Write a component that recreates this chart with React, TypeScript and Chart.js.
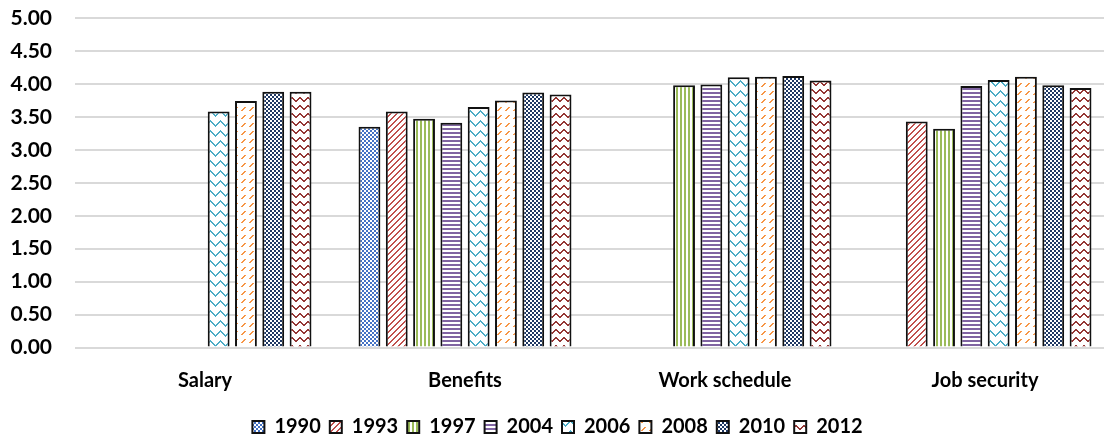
import React, { useEffect, useRef } from "react";
import { Chart, registerables } from "chart.js";

Chart.register(...registerables);

const categories = ["Salary", "Benefits", "Work schedule", "Job security"];
const years = ["1990", "1993", "1997", "2004", "2006", "2008", "2010", "2012"];

const v1990 = [null, 3.35, null, null];
const v1993 = [null, 3.58, null, 3.43];
const v1997 = [null, 3.47, 3.98, 3.32];
const v2004 = [null, 3.41, 3.99, 3.97];
const v2006 = [3.58, 3.65, 4.1, 4.06];
const v2008 = [3.74, 3.75, 4.11, 4.11];
const v2010 = [3.88, 3.87, 4.12, 3.98];
const v2012 = [3.88, 3.84, 4.05, 3.94];

const seriesValues = [v1990, v1993, v1997, v2004, v2006, v2008, v2010, v2012];
const yTicks = [0, 0.5, 1, 1.5, 2, 2.5, 3, 3.5, 4, 4.5, 5];

const FONT = "Lato, 'Liberation Sans', sans-serif";
const FSIZE = 20;

function tile(w: number, h: number, color: string, pixels: [number, number, number?, number?][]) {
  const c = document.createElement("canvas");
  c.width = w;
  c.height = h;
  const ctx = c.getContext("2d")!;
  ctx.fillStyle = "#ffffff";
  ctx.fillRect(0, 0, w, h);
  ctx.fillStyle = color;
  for (const [x, y, pw, ph] of pixels) ctx.fillRect(x, y, pw ?? 1, ph ?? 1);
  const tmp = document.createElement("canvas").getContext("2d")!;
  return tmp.createPattern(c, "repeat") as CanvasPattern;
}

function makePatterns() {
  const p: CanvasPattern[] = [];
  // 1990 small checker blue
  p.push(tile(4, 4, "#4472C4", [[0, 0, 2, 2], [2, 2, 2, 2]]));
  // 1993 upward diagonal red
  const d: [number, number, number?, number?][] = [];
  for (let i = 0; i < 6; i++) {
    d.push([i, 5 - i]);
    d.push([(i + 1) % 6, 5 - i]);
  }
  p.push(tile(6, 6, "#C0504D", d));
  // 1997 vertical stripes green
  p.push(tile(4, 1, "#9BBB59", [[0, 0, 2, 1]]));
  // 2004 horizontal stripes purple
  p.push(tile(1, 4, "#8064A2", [[0, 0, 1, 2]]));
  // 2006 zigzag teal
  const z: [number, number, number?, number?][] = [];
  for (let x = 0; x < 10; x++) {
    const y = x < 5 ? x : 10 - x;
    z.push([x, y, 1, 2]);
  }
  p.push(tile(10, 10, "#4BACC6", z));
  // 2008 dashed upward diagonal orange
  p.push(
    tile(8, 8, "#F79646", [
      [1, 6, 2, 1],
      [2, 5, 2, 1],
      [3, 4, 2, 1],
      [4, 3, 2, 1],
    ])
  );
  // 2010 dark navy checker
  p.push(tile(4, 4, "#1F3864", [[0, 0, 2, 2], [2, 2, 2, 2]]));
  // 2012 herringbone dark red
  const h: [number, number, number?, number?][] = [];
  for (let x = 0; x < 8; x++) {
    const y = x < 4 ? 4 - x : x - 3;
    h.push([x, y, 1, 2]);
  }
  p.push(tile(8, 8, "#953735", h));
  return p;
}

export default function App() {
  const ref = useRef<HTMLCanvasElement | null>(null);

  useEffect(() => {
    if (!ref.current) return;
    const patterns = makePatterns();
    const chart = new Chart(ref.current, {
      type: "bar",
      data: {
        labels: categories,
        datasets: years.map((y, i) => ({
          label: y,
          data: seriesValues[i],
          backgroundColor: patterns[i],
          borderColor: "#111111",
          borderWidth: 2,
          barPercentage: 0.8,
          categoryPercentage: 0.84,
        })),
      },
      options: {
        animation: false,
        responsive: false,
        maintainAspectRatio: false,
        layout: { padding: { top: 18, right: 0, left: 0, bottom: 0 } },
        plugins: {
          tooltip: { enabled: false },
          legend: {
            position: "bottom",
            labels: {
              boxWidth: 12,
              boxHeight: 12,
              padding: 9,
              color: "#000",
              font: { family: FONT, size: FSIZE, weight: "bold" },
            },
          },
        },
        scales: {
          x: {
            grid: { display: false },
            border: { display: false },
            ticks: {
              color: "#000",
              padding: 13,
              font: { family: FONT, size: FSIZE, weight: "bold" },
            },
            afterFit: (s: any) => {
              s.height = 60.4;
            },
          },
          y: {
            min: 0,
            max: 5,
            afterBuildTicks: (s: any) => {
              s.ticks = yTicks.map((v) => ({ value: v }));
            },
            grid: { color: "#D9D9D9", lineWidth: 2, drawTicks: false },
            border: { display: false },
            ticks: {
              color: "#000",
              padding: 23,
              font: { family: FONT, size: 21, weight: "bold" },
              callback: (v: any) => Number(v).toFixed(2),
            },
            afterFit: (s: any) => {
              s.width = 75;
              s.paddingTop = 0;
              s.paddingBottom = 0;
            },
          },
        },
      },
    });
    return () => chart.destroy();
  }, []);

  return (
    <div style={{ position: "absolute", left: 0, top: 0, width: 1104, height: 443, overflow: "hidden", background: "#fff" }}>
      <canvas ref={ref} width={1115} height={447} style={{ display: "block" }} />
    </div>
  );
}
